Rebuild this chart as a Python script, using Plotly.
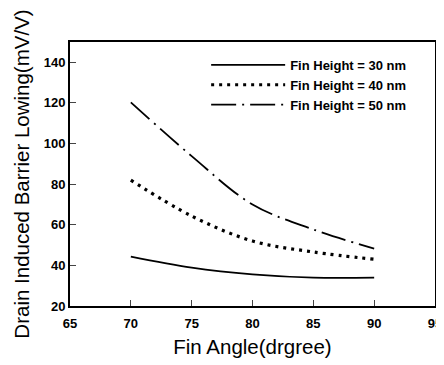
import plotly.graph_objects as go

fin_angle = [70, 75, 80, 85, 90]
dibl_30nm = [44.3, 38.9, 35.6, 34.0, 34.0]
dibl_40nm = [82.0, 64.3, 52.0, 46.6, 43.0]
dibl_50nm = [120.3, 93.8, 70.0, 57.7, 48.2]
series_names = ["Fin Height = 30 nm", "Fin Height = 40 nm", "Fin Height = 50 nm"]
x_ticks = [65, 70, 75, 80, 85, 90, 95]
y_ticks = [20, 40, 60, 80, 100, 120, 140]

FONT = "Liberation Sans, Arial, sans-serif"

fig = go.Figure()
fig.add_trace(go.Scatter(x=fin_angle, y=dibl_30nm, name=series_names[0], mode="lines",
                         line=dict(color="black", width=1.8, shape="spline")))
fig.add_trace(go.Scatter(x=fin_angle, y=dibl_40nm, name=series_names[1], mode="lines",
                         line=dict(color="black", width=3.2, dash="3px,5px", shape="spline")))
fig.add_trace(go.Scatter(x=fin_angle, y=dibl_50nm, name=series_names[2], mode="lines",
                         line=dict(color="black", width=1.8, dash="25px,6px,2px,6px", shape="spline")))

# page body has an 8px default margin, so the figure is offset by (8, 8)
fig.update_layout(
    width=436, height=357,
    margin=dict(l=62, r=9, t=34, b=59, autoexpand=False),
    paper_bgcolor="white", plot_bgcolor="white",
    font=dict(family=FONT, color="black"),
    showlegend=True,
    legend=dict(x=0.373, y=0.97, xanchor="left", yanchor="top",
                bgcolor="rgba(0,0,0,0)", font=dict(family=FONT, size=13, weight="bold"),
                tracegroupgap=0, itemwidth=74),
)
fig.update_xaxes(range=[65, 95], tickvals=x_ticks, ticks="inside", ticklen=6, tickwidth=1,
                 showline=True, linecolor="black", linewidth=2, mirror=True, showgrid=False,
                 zeroline=False, automargin=False, ticklabeloverflow="allow", ticklabelstandoff=4,
                 tickfont=dict(family=FONT, size=13, weight="bold"),
                 title=dict(text="Fin Angle(drgree)", font=dict(family=FONT, size=20.5), standoff=10))
fig.update_yaxes(range=[20, 150], tickvals=y_ticks, ticks="inside", ticklen=6, tickwidth=1,
                 showline=True, linecolor="black", linewidth=2, mirror=True, showgrid=False,
                 zeroline=False, automargin=False, ticklabeloverflow="allow",
                 tickfont=dict(family=FONT, size=13, weight="bold"),
                 title=dict(text="Drain Induced Barrier Lowing(mV/V)", font=dict(family=FONT, size=20.5), standoff=9))

fig.write_html("out.html")
